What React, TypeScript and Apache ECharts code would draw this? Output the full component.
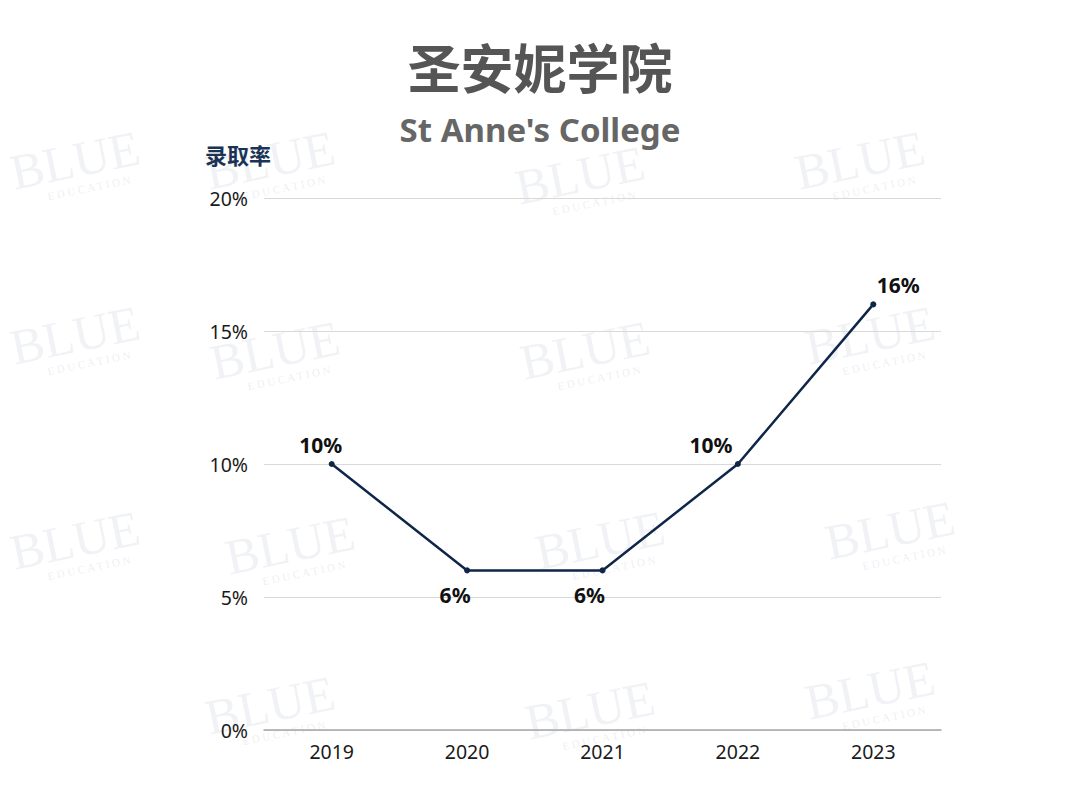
import React, { useEffect, useRef } from "react";
import * as echarts from "echarts";

const years = ["2019", "2020", "2021", "2022", "2023"];
const rates = [10, 6, 6, 10, 16];
const yTicks = { min: 0, max: 20, interval: 5 };
const titleText = "圣安妮学院";
const subtitleText = "St Anne's College";
const yName = "录取率";

// watermark anchor points (decorative)
const marks: [number, number][] = [
  [75, 160], [270, 160], [580, 175], [860, 160],
  [75, 335], [275, 350], [585, 350], [870, 335],
  [75, 540], [290, 545], [600, 540], [890, 530],
  [270, 705], [590, 710], [870, 690],
];

export default function App() {
  const ref = useRef<HTMLDivElement>(null);
  useEffect(() => {
    if (!ref.current) return;
    const chart = echarts.init(ref.current, null, { renderer: "svg" });
    const wm: any[] = [];
    marks.forEach(([x, y]) => {
      wm.push({
        type: "group",
        x,
        y,
        rotation: 0.2,
        silent: true,
        z: -10,
        children: [
          {
            type: "text",
            x: 0,
            y: 0,
            style: {
              text: "BLUE",
              font: "50px 'Liberation Serif', serif",
              fill: "rgba(180,190,205,0.2)",
              textAlign: "center",
              textVerticalAlign: "middle",
            },
          },
          {
            type: "text",
            x: 8,
            y: 30,
            style: {
              text: "E D U C A T I O N",
              font: "11px 'Liberation Serif', serif",
              fill: "rgba(180,190,205,0.25)",
              textAlign: "center",
              textVerticalAlign: "middle",
            },
          },
        ],
      });
    });
    const labelPos: any[] = [
      { position: "top", distance: 6, offset: [-11, 0] },
      { position: "bottom", distance: 11, offset: [-12, 0] },
      { position: "bottom", distance: 11, offset: [-13, 0] },
      { position: "top", distance: 6, offset: [-27, 0] },
      { position: "top", distance: 6, offset: [25, 0] },
    ];
    chart.setOption({
      animation: false,
      backgroundColor: "#ffffff",
      graphic: [
        ...wm,
        {
          type: "text",
          left: "center",
          top: 39,
          style: {
            text: titleText,
            font: "bold 53px 'Noto Sans CJK SC', sans-serif",
            fill: "#555555",
          },
        },
        {
          type: "text",
          left: "center",
          top: 113,
          style: {
            text: subtitleText,
            font: "bold 33px 'Noto Sans', 'Open Sans', sans-serif",
            fill: "#666666",
          },
        },
        {
          type: "text",
          x: 238,
          y: 154,
          style: {
            text: yName,
            font: "bold 22px 'Noto Sans CJK SC', sans-serif",
            fill: "#1b3355",
            textAlign: "center",
            textVerticalAlign: "middle",
          },
        },
      ],
      grid: { left: 264, right: 139, top: 198, bottom: 80 },
      xAxis: {
        type: "category",
        data: years,
        boundaryGap: true,
        axisLine: { show: true, lineStyle: { color: "#a6a6a6", width: 1.5 } },
        axisTick: { show: false },
        axisLabel: {
          color: "#1a1a1a",
          fontSize: 19.5,
          fontFamily: "'Noto Sans', sans-serif",
          margin: 11,
        },
      },
      yAxis: {
        type: "value",
        min: yTicks.min,
        max: yTicks.max,
        interval: yTicks.interval,
        axisLine: { show: false },
        axisTick: { show: false },
        axisLabel: {
          formatter: "{value}%",
          color: "#1a1a1a",
          fontSize: 19.5,
          fontFamily: "'Noto Sans', sans-serif",
          margin: 16,
        },
        splitLine: { lineStyle: { color: "#d9d9d9", width: 1 } },
      },
      series: [
        {
          type: "line",
          data: rates.map((v, i) => ({
            value: v,
            label: { show: true, ...labelPos[i] },
          })),
          symbol: "circle",
          symbolSize: 6,
          itemStyle: { color: "#0f2649" },
          lineStyle: { color: "#0f2649", width: 2.5 },
          label: {
            show: true,
            formatter: "{c}%",
            color: "#111111",
            fontSize: 21,
            fontWeight: "bold",
            fontFamily: "'Noto Sans', sans-serif",
          },
          z: 5,
        },
      ],
    });
    return () => chart.dispose();
  }, []);
  return (
    <div
      ref={ref}
      style={{ position: "absolute", left: 0, top: 0, width: 1080, height: 810 }}
    />
  );
}
